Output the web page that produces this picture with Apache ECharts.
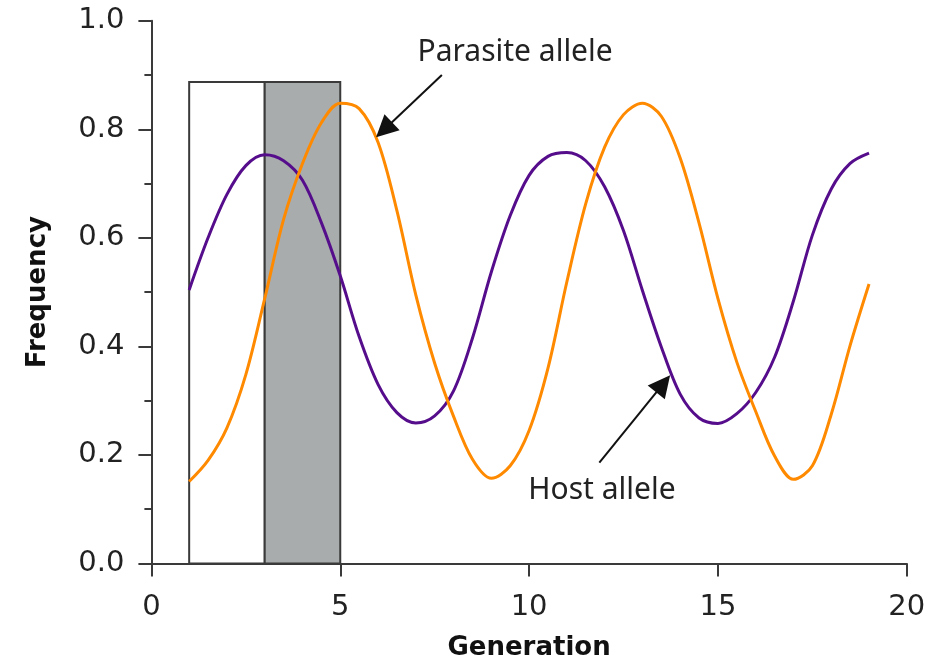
<!DOCTYPE html>
<html>
<head>
<meta charset="utf-8">
<script src="https://cdn.jsdelivr.net/npm/echarts@6/dist/echarts.min.js"></script>
<style>
html,body{margin:0;padding:0;background:#fff;}
#chart{width:936px;height:661px;}
</style>
</head>
<body>
<div id="chart"></div>
<script>
// ---- data ----
const generations = [1,1.5,2,2.5,3,3.5,4,4.5,5,5.5,6,6.5,7,7.5,8,8.5,9,9.5,10,10.5,11,11.5,12,12.5,13,13.5,14,14.5,15,15.5,16,16.5,17,17.5,18,18.5,19];
const hostAllele = [0.504,0.600,0.680,0.733,0.753,0.742,0.706,0.628,0.530,0.418,0.330,0.278,0.259,0.272,0.318,0.415,0.537,0.641,0.715,0.750,0.757,0.742,0.694,0.613,0.503,0.399,0.312,0.268,0.258,0.276,0.315,0.380,0.484,0.605,0.690,0.737,0.756];
const parasiteAllele = [0.151,0.190,0.250,0.348,0.488,0.634,0.737,0.812,0.848,0.838,0.776,0.650,0.495,0.369,0.271,0.192,0.157,0.180,0.245,0.360,0.519,0.663,0.767,0.827,0.848,0.824,0.747,0.627,0.488,0.371,0.280,0.198,0.155,0.180,0.275,0.402,0.515];
// shaded generation windows
const boxFrom = [1, 3];
const boxTo = [3, 5];
const boxTop = 0.887;
// annotations
const annotationTexts = ['Parasite allele', 'Host allele'];
const annotationPos = [[9.63, 0.942], [11.93, 0.135]];
const arrowStart = [[7.69, 0.900], [11.86, 0.186]];
const arrowEnd = [[6.16, 0.799], [13.55, 0.331]];
const xTicks = {min: 0, max: 20, interval: 5};
const yTicks = {min: 0, max: 1, interval: 0.2};

const hostColor = '#560d8c';
const parasiteColor = '#ff8a00';
const axisColor = '#3a3a3a';
const boxFill = ['#ffffff', '#a8acac'];

const chart = echarts.init(document.getElementById('chart'), null, {renderer: 'canvas'});

const pair = (xs, ys) => xs.map((x, i) => [x, ys[i]]);

const option = {
  animation: false,
  backgroundColor: '#ffffff',
  grid: {left: 151.4, right: 29.2, top: 20.7, bottom: 97.5, containLabel: false, outerBoundsMode: 'none'},
  xAxis: {
    type: 'value', min: xTicks.min, max: xTicks.max, interval: xTicks.interval,
    name: 'Generation', nameLocation: 'middle', nameGap: 72,
    nameTextStyle: {fontFamily: 'DejaVu Sans', fontWeight: 'bold', fontSize: 26, color: '#111'},
    axisLine: {show: true, lineStyle: {color: axisColor, width: 2}},
    axisTick: {show: true, length: 13, lineStyle: {color: axisColor, width: 2}},
    axisLabel: {fontFamily: 'DejaVu Sans', fontSize: 29, color: '#222', margin: 29},
    splitLine: {show: false}
  },
  yAxis: {
    type: 'value', min: yTicks.min, max: yTicks.max, interval: yTicks.interval,
    name: 'Frequency', nameLocation: 'middle', nameGap: 100, nameRotate: 90,
    nameTextStyle: {fontFamily: 'DejaVu Sans', fontWeight: 'bold', fontSize: 26, color: '#111'},
    axisLine: {show: true, lineStyle: {color: axisColor, width: 2}},
    axisTick: {show: true, length: 13, lineStyle: {color: axisColor, width: 2}},
    minorTick: {show: true, splitNumber: 2, length: 7, lineStyle: {color: axisColor, width: 2}},
    axisLabel: {fontFamily: 'DejaVu Sans', fontSize: 29, color: '#222', margin: 27,
      formatter: v => v.toFixed(1)},
    splitLine: {show: false}
  },
  series: [
    {
      type: 'line', name: 'Host allele', data: pair(generations, hostAllele),
      smooth: 0.33, showSymbol: false, symbol: 'none',
      lineStyle: {color: hostColor, width: 3}, z: 3,
      markArea: {
        silent: true,
        z: 1,
        data: boxFrom.map((f, i) => [
          {xAxis: f, yAxis: 0, itemStyle: {color: boxFill[i], borderColor: axisColor, borderWidth: 2}},
          {xAxis: boxTo[i], yAxis: boxTop}
        ])
      }
    },
    {
      type: 'line', name: 'Parasite allele', data: pair(generations, parasiteAllele),
      smooth: 0.33, showSymbol: false, symbol: 'none',
      lineStyle: {color: parasiteColor, width: 3}, z: 4,
      markLine: {
        silent: true,
        symbol: ['none', 'triangle'],
        symbolSize: 22,
        label: {show: false},
        lineStyle: {color: '#111', width: 2, type: 'solid'},
        data: arrowStart.map((s, i) => [
          {coord: s}, {coord: arrowEnd[i]}
        ])
      },
      markPoint: {
        silent: true,
        symbol: 'circle', symbolSize: 1,
        itemStyle: {color: 'rgba(0,0,0,0)'},
        label: {show: true, position: 'inside', fontFamily: 'Noto Sans', fontSize: 30, color: '#222',
          formatter: p => p.name},
        data: annotationTexts.map((t, i) => ({name: t, coord: annotationPos[i]}))
      }
    }
  ]
};
chart.setOption(option);
</script>
</body>
</html>
